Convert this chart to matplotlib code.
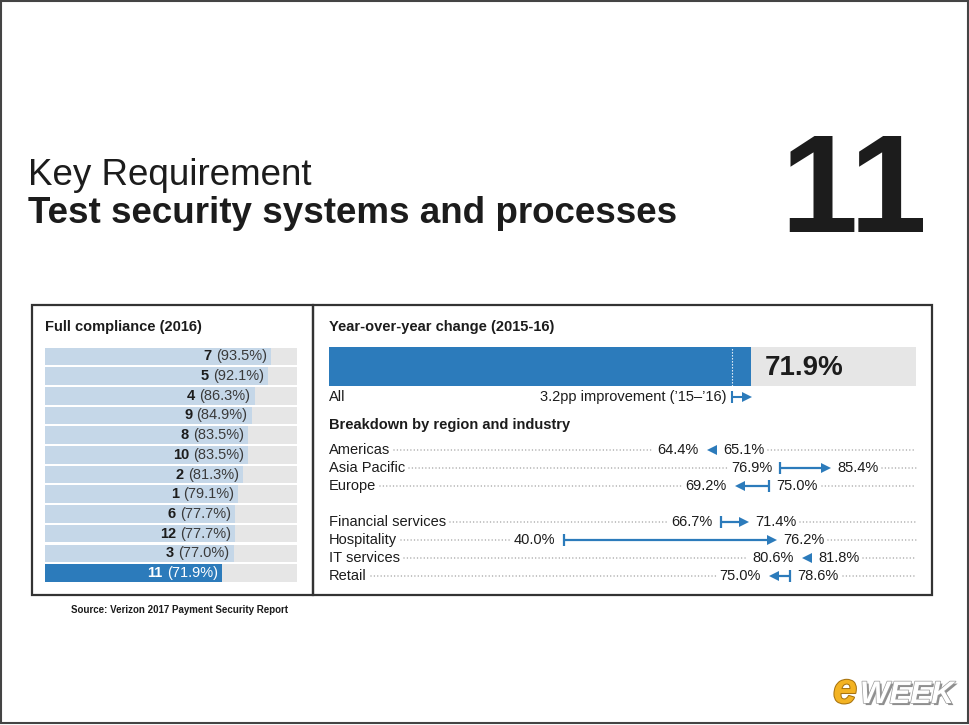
"""
Key requirement 11 chart: full compliance by requirement plus the
year-over-year change, overall and broken down by region and industry.
"""

import matplotlib as mpl
mpl.use('Agg')

import numpy as np
import matplotlib.pyplot as plt
from matplotlib.patches import Rectangle
from matplotlib.transforms import offset_copy
import matplotlib.patheffects as pe

plt.rcParams['font.family'] = ['Liberation Sans', 'DejaVu Sans']

# Full compliance (2016) by key requirement
req_ids = ['7', '5', '4', '9', '8', '10', '2', '1', '6', '12', '3', '11']
req_pct = [93.5, 92.1, 86.3, 84.9, 83.5, 83.5, 81.3, 79.1, 77.7, 77.7, 77.0, 71.9]
req_focus = '11'

# Year-over-year change, all organisations
all_2016 = 71.9
all_change_pp = 3.2

# Breakdown by region and industry (2015 -> 2016)
region_names = ['Americas', 'Asia Pacific', 'Europe']
region_2015 = [65.1, 76.9, 75.0]
region_2016 = [64.4, 85.4, 69.2]
industry_names = ['Financial services', 'Hospitality', 'IT services', 'Retail']
industry_2015 = [66.7, 40.0, 81.8, 78.6]
industry_2016 = [71.4, 76.2, 80.6, 75.0]

BLUE = '#2c7bbb'
LIGHT = '#c5d7e8'
TRACK = '#e6e6e6'
INK = '#1c1c1c'
GREY_TXT = '#3a3a3a'
DOTS = '#a2a2a2'

W, H = 970, 725
fig = plt.figure(figsize=(W / 100, H / 100), dpi=100)


def px_axes(x, y, w, h):
    ax = fig.add_axes([x / W, 1 - (y + h) / H, w / W, h / H])
    ax.set_axis_off()
    return ax


def px_box(x, y, w, h, **kw):
    fig.patches.append(Rectangle((x / W, 1 - (y + h) / H), w / W, h / H,
                                 transform=fig.transFigure, fill=False, **kw))


def px_text(x, y, s, **kw):
    return fig.text(x / W, 1 - y / H, s, **kw)


def shift(ax, x, dpx):
    """Move a data x value by dpx display pixels."""
    disp = ax.transData.transform((x, 0))
    return ax.transData.inverted().transform((disp[0] + dpx, disp[1]))[0]


def change_arrow(ax, x0, x1, y, lw=1.6, head=6.5):
    d = 1 if x1 >= x0 else -1
    head_px = head * 100 / 72.
    xend = shift(ax, x1, -d * head_px * 0.6)
    if (xend - x0) * d > 0:
        ax.plot([x0, xend], [y, y], color=BLUE, lw=lw, solid_capstyle='butt', clip_on=False)
    if abs(x1 - x0) > 1.5:
        ax.plot([x0], [y], marker='|', ms=8.5, mew=lw, color=BLUE, clip_on=False)
    tr = offset_copy(ax.transData, fig=fig, x=-d * head / 2., y=0, units='points')
    ax.plot([x1], [y], marker='>' if d > 0 else '<', ms=head, mew=0, color=BLUE,
            transform=tr, clip_on=False)
    # where the arrow head ends on the far side
    return shift(ax, x1, -d * head_px)


# Frame and header
px_box(1, 1, 967, 722, lw=1.5, ec='#444444')
px_text(28, 185, 'Key Requirement', fontsize=26.5, color=INK, va='baseline')
px_text(28, 223, 'Test security systems and processes', fontsize=26.5,
        fontweight='bold', color=INK, va='baseline')
px_text(927, 232, '11', fontsize=100, fontweight='bold', color=INK, ha='right',
        va='baseline')

px_box(32, 305, 281, 290, lw=1.6, ec='#333333')
px_box(313, 305, 619, 290, lw=1.6, ec='#333333')

# Left panel: full compliance bars
px_text(45, 327, 'Full compliance (2016)', fontsize=10.5, fontweight='bold',
        color=INK, va='center')
ax1 = px_axes(45, 346.6, 252, 236.2)
X0, X1 = -6.5, 105.0
rows = np.arange(len(req_ids))
ax1.set_xlim(X0, X1)
ax1.set_ylim(len(req_ids) - 0.5, -0.5)
ax1.barh(rows, X1 - X0, left=X0, height=0.89, color=TRACK)
bar_cols = [BLUE if r == req_focus else LIGHT for r in req_ids]
ax1.barh(rows, np.array(req_pct) - X0, left=X0, height=0.89, color=bar_cols)
pct_txt = []
for i, (rid, v) in enumerate(zip(req_ids, req_pct)):
    c = 'white' if rid == req_focus else GREY_TXT
    t = ax1.annotate(f'({v:.1f}%)', (v, i), xytext=(-3, 0), textcoords='offset points',
                     ha='right', va='center', fontsize=10.5, color=c)
    pct_txt.append(t)

# Right panel: overall change
px_text(329, 327, 'Year-over-year change (2015-16)', fontsize=10.5, fontweight='bold',
        color=INK, va='center')
ax2 = px_axes(329, 347, 587, 39)
ax2.set_xlim(0, 100)
ax2.set_ylim(0, 1)
ax2.barh(0.5, 100, height=1, color=TRACK)
ax2.barh(0.5, all_2016, height=1, color=BLUE)
ax2.plot([all_2016 - all_change_pp] * 2, [0, 1], color='white', lw=0.8,
         ls=(0, (1.2, 1.5)))
ax2.annotate(f'{all_2016}%', (all_2016, 0.5), xytext=(10, -1), textcoords='offset points',
             fontsize=20, fontweight='bold', color=INK, ha='left', va='center')

ax2n = px_axes(329, 388, 587, 18)
ax2n.set_xlim(0, 100)
ax2n.set_ylim(0, 1)
ax2n.text(0, 0.5, 'All', fontsize=10.5, color=INK, ha='left', va='center')
change_arrow(ax2n, all_2016 - all_change_pp, all_2016, 0.5, lw=1.5, head=6.5)
ax2n.annotate(f'{all_change_pp}pp improvement (\u201915\u2013\u201916)',
              (all_2016 - all_change_pp, 0.5), xytext=(-4, 0), textcoords='offset points',
              fontsize=10.5, color=INK, ha='right', va='center')

# Right panel: breakdown rows
px_text(329, 425, 'Breakdown by region and industry', fontsize=10.5, fontweight='bold',
        color=INK, va='center')
ax3 = px_axes(329, 441, 587, 144)
ax3.set_xlim(0, 100)
ax3.set_ylim(7.5, -0.5)

names = region_names + industry_names
v15 = region_2015 + industry_2015
v16 = region_2016 + industry_2016
ypos = list(np.arange(len(region_names))) + \
    list(len(region_names) + 1 + np.arange(len(industry_names)))

row_txt = []
for name, a, b, y in zip(names, v15, v16, ypos):
    far = change_arrow(ax3, a, b, y)
    lo, hi = min(a, b), max(a, b)
    if b < a:
        hi = max(hi, far)
    else:
        lo = min(lo, far)
    tn = ax3.text(0, y, name, fontsize=10.5, color=INK, ha='left', va='center')
    tl = ax3.annotate(f'{min(a, b):.1f}%', (lo, y), xytext=(-6, 0), textcoords='offset points',
                      fontsize=10.5, color=INK, ha='right', va='center')
    tr = ax3.annotate(f'{max(a, b):.1f}%', (hi, y), xytext=(5, 0), textcoords='offset points',
                      fontsize=10.5, color=INK, ha='left', va='center')
    row_txt.append((y, tn, tl, tr))

# Source and logo
px_text(71, 610, 'Source: Verizon 2017 Payment Security Report', fontsize=7,
        fontweight='bold', color=INK, va='center')
px_text(857, 703, 'e', fontsize=31, fontweight='bold', style='italic', color='#f3b323',
        ha='right', va='baseline',
        path_effects=[pe.withStroke(linewidth=1.5, foreground='#a87410')])
px_text(860, 703, 'WEEK', fontsize=22.5, fontweight='bold', style='italic', color='white',
        ha='left', va='baseline',
        path_effects=[pe.withSimplePatchShadow(offset=(1.5, -1.5), shadow_rgbFace='#444444',
                                               alpha=0.6),
                      pe.withStroke(linewidth=1.0, foreground='#9a9a9a')])

# Second pass: things that depend on text extents
fig.canvas.draw()
renderer = fig.canvas.get_renderer()

inv1 = ax1.transData.inverted()
for i, (rid, t) in enumerate(zip(req_ids, pct_txt)):
    bb = t.get_window_extent(renderer)
    xd = inv1.transform((bb.x0, bb.y0))[0]
    c = 'white' if rid == req_focus else INK
    ax1.annotate(rid, (xd, i), xytext=(-3, 0), textcoords='offset points',
                 ha='right', va='center', fontsize=10.5, fontweight='bold', color=c)

inv3 = ax3.transData.inverted()
for y, tn, tl, tr in row_txt:
    bn = tn.get_window_extent(renderer)
    bl = tl.get_window_extent(renderer)
    br = tr.get_window_extent(renderer)
    segs = [(bn.x1 + 4, bl.x0 - 4), (br.x1 + 4, ax3.transData.transform((100, 0))[0])]
    for p0, p1 in segs:
        if p1 - p0 < 3:
            continue
        x0d = inv3.transform((p0, 0))[0]
        x1d = inv3.transform((p1, 0))[0]
        ax3.plot([x0d, x1d], [y, y], color=DOTS, lw=1.1, ls=(0, (0.01, 2.2)),
                 dash_capstyle='round', zorder=0, clip_on=False)

fig.savefig('out.png', dpi=100)
